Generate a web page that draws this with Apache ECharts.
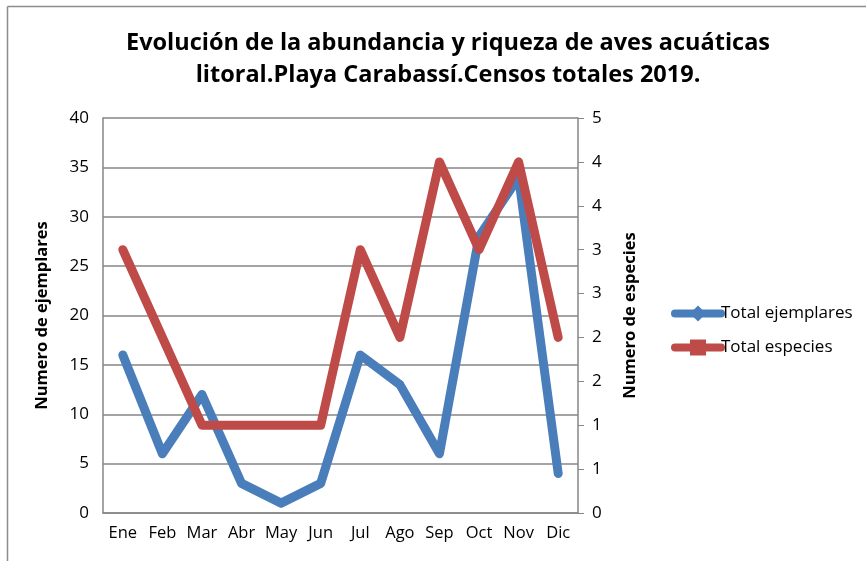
<!DOCTYPE html>
<html><head><meta charset="utf-8">
<script src="https://cdn.jsdelivr.net/npm/echarts@6/dist/echarts.min.js"></script>
<style>html,body{margin:0;padding:0;background:#fff}#c{width:866px;height:561px}</style>
</head><body><div id="c"></div>
<script>
const months = ['Ene','Feb','Mar','Abr','May','Jun','Jul','Ago','Sep','Oct','Nov','Dic'];
const totalEjemplares = [16, 6, 12, 3, 1, 3, 16, 13, 6, 28, 34, 4];
const totalEspecies = [3, 2, 1, 1, 1, 1, 3, 2, 4, 3, 4, 2];
const titleText = 'Evolución de la abundancia y riqueza de aves acuáticas\nlitoral.Playa Carabassí.Censos totales 2019.';
const F = 'Open Sans';
const chart = echarts.init(document.getElementById('c'), null, {renderer:'canvas'});
chart.setOption({
  animation:false,
  backgroundColor:'#fff',
  graphic:[
    {type:'line',shape:{x1:7.5,y1:6.5,x2:866,y2:6.5},style:{stroke:'#8c8c8c',lineWidth:1.5},silent:true},
    {type:'line',shape:{x1:7.5,y1:6.5,x2:7.5,y2:561},style:{stroke:'#8c8c8c',lineWidth:1.5},silent:true}
  ],
  title:{text:titleText,left:443,textAlign:'center',top:22,textStyle:{fontFamily:F,fontWeight:'bold',fontSize:23.5,lineHeight:32,color:'#000'}},
  legend:{orient:'vertical',left:666,top:300,itemGap:17,itemWidth:46,itemHeight:20,
    lineStyle:{width:8,cap:'round'},
    textStyle:{fontFamily:F,fontSize:17,color:'#000',padding:[0,0,0,-5]},
    data:['Total ejemplares','Total especies']},
  grid:{left:103,right:288,top:118,bottom:48,containLabel:false},
  xAxis:{type:'category',data:months,boundaryGap:true,
    axisLine:{lineStyle:{color:'#868686',width:1.5}},axisTick:{show:false},
    axisLabel:{fontFamily:F,fontSize:16.5,color:'#000',margin:12,interval:0}},
  yAxis:[
    {type:'value',min:0,max:40,interval:5,position:'left',
     name:'Numero de ejemplares',nameLocation:'middle',nameGap:52,nameRotate:90,
     nameTextStyle:{fontFamily:F,fontWeight:'bold',fontSize:16.5,color:'#000'},
     axisLine:{show:true,lineStyle:{color:'#868686',width:1.5}},
     axisTick:{show:false},
     axisLabel:{fontFamily:F,fontSize:17,color:'#000',margin:14},
     splitLine:{lineStyle:{color:'#868686',width:1.5}}},
    {type:'value',min:0,max:4.5,interval:0.5,position:'right',
     name:'Numero de especies',nameLocation:'middle',nameGap:44,nameRotate:90,
     nameTextStyle:{fontFamily:F,fontWeight:'bold',fontSize:16.5,color:'#000'},
     axisLine:{show:true,lineStyle:{color:'#868686',width:1.5}},
     axisTick:{show:true,length:6,lineStyle:{color:'#868686'}},
     axisLabel:{fontFamily:F,fontSize:17,color:'#000',margin:14,formatter:v=>String(Math.round(v+1e-9))},
     splitLine:{show:false}}
  ],
  series:[
    {name:'Total ejemplares',type:'line',yAxisIndex:0,data:totalEjemplares,
     symbol:'diamond',symbolSize:16,showSymbol:false,
     lineStyle:{color:'#4A7EBB',width:9,cap:'round',join:'round'},
     itemStyle:{color:'#4A7EBB'}},
    {name:'Total especies',type:'line',yAxisIndex:1,data:totalEspecies,
     symbol:'rect',symbolSize:14,showSymbol:false,
     lineStyle:{color:'#BE4B48',width:9,cap:'round',join:'round'},
     itemStyle:{color:'#BE4B48'}}
  ]
});
</script></body></html>
